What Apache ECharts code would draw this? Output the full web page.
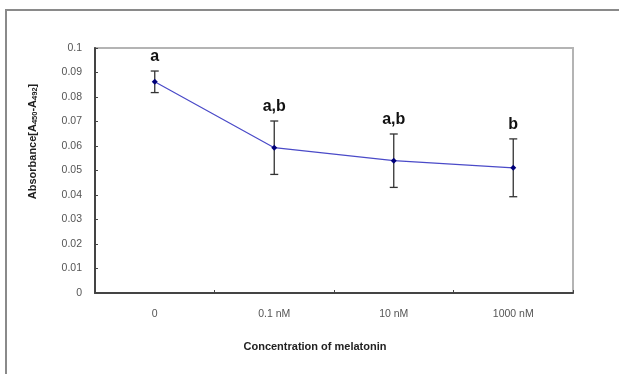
<!DOCTYPE html>
<html>
<head>
<meta charset="utf-8">
<script src="https://cdn.jsdelivr.net/npm/echarts@6/dist/echarts.min.js"></script>
<style>
  html, body { margin: 0; padding: 0; background: #fff; }
  #chart { width: 619px; height: 374px; }
</style>
</head>
<body>
<div id="chart"></div>
<script>
// data
var categories = ['0', '0.1 nM', '10 nM', '1000 nM'];
var meanValues = [0.0862, 0.0593, 0.0540, 0.0511];
var errValues = [0.0044, 0.0109, 0.0109, 0.0118];
var sigLabels = ['a', 'a,b', 'a,b', 'b'];
var yTicks = { min: 0, max: 0.1, interval: 0.01 };

var myChart = echarts.init(document.getElementById('chart'), null, { renderer: 'canvas' });

var errData = [];
for (var i = 0; i < categories.length; i++) {
    errData.push([i, meanValues[i] - errValues[i], meanValues[i] + errValues[i], sigLabels[i]]);
}

var option = {
    animation: false,
    backgroundColor: '#fff',
    grid: {
        left: 95, top: 48, right: 46, bottom: 81,
        show: true, borderColor: '#b4b4b4', borderWidth: 2, backgroundColor: 'transparent'
    },
    // outer frame (top and left edges only are visible)
    graphic: [{
        type: 'polyline',
        shape: { points: [[6, 374], [6, 10], [619, 10]] },
        style: { stroke: '#8a8a8a', lineWidth: 2, fill: null },
        silent: true
    }],
    xAxis: {
        type: 'category',
        data: categories,
        boundaryGap: true,
        name: 'Concentration of melatonin',
        nameLocation: 'middle',
        nameGap: 48,
        nameTextStyle: {
            fontFamily: 'Liberation Sans', fontSize: 11, fontWeight: 'bold', color: '#222',
            padding: [0, 38, 0, 0]
        },
        axisLine: { lineStyle: { color: '#444', width: 2 } },
        axisTick: { show: true, inside: true, length: 3, alignWithLabel: false, lineStyle: { color: '#444' } },
        axisLabel: { margin: 16, fontFamily: 'Liberation Sans', fontSize: 10.5, color: '#555' },
        splitLine: { show: false }
    },
    yAxis: {
        type: 'value',
        min: yTicks.min, max: yTicks.max, interval: yTicks.interval,
        name: '{b|Absorbance[A}{s|450}{b|-A}{s|492}{b|]}',
        nameLocation: 'middle',
        nameRotate: 90,
        nameGap: 56,
        nameTextStyle: {
            padding: [0, 0, 0, 58],
            rich: {
                b: { fontFamily: 'Liberation Sans', fontSize: 11, fontWeight: 'bold', color: '#222' },
                s: { fontFamily: 'Liberation Sans', fontSize: 7.5, fontWeight: 'bold', color: '#222', verticalAlign: 'bottom', padding: [5, 0, 0, 0] }
            }
        },
        axisLine: { show: true, lineStyle: { color: '#444', width: 2 } },
        axisTick: { show: true, inside: true, length: 3, lineStyle: { color: '#444' } },
        axisLabel: {
            margin: 13, fontFamily: 'Liberation Sans', fontSize: 10.5, color: '#555',
            formatter: function (v) { return v === 0 ? '0' : String(+v.toFixed(2)); }
        },
        splitLine: { show: false }
    },
    series: [
        {
            name: 'mean',
            type: 'line',
            data: meanValues,
            symbol: 'diamond',
            symbolSize: 6,
            itemStyle: { color: '#00007a' },
            lineStyle: { color: '#4a4ac8', width: 1.2 },
            z: 3
        },
        {
            name: 'error',
            type: 'custom',
            data: errData,
            z: 2,
            renderItem: function (params, api) {
                var x = api.value(0);
                var lo = api.coord([x, api.value(1)]);
                var hi = api.coord([x, api.value(2)]);
                var cap = 4;
                var st = { stroke: '#333', lineWidth: 1.3 };
                return {
                    type: 'group',
                    children: [
                        { type: 'line', shape: { x1: hi[0], y1: hi[1], x2: lo[0], y2: lo[1] }, style: st },
                        { type: 'line', shape: { x1: hi[0] - cap, y1: hi[1], x2: hi[0] + cap, y2: hi[1] }, style: st },
                        { type: 'line', shape: { x1: lo[0] - cap, y1: lo[1], x2: lo[0] + cap, y2: lo[1] }, style: st },
                        {
                            type: 'text',
                            style: {
                                text: sigLabels[params.dataIndex],
                                x: hi[0], y: hi[1] - 14,
                                align: 'center', verticalAlign: 'middle',
                                font: 'bold 16px "Liberation Sans"',
                                fill: '#111'
                            }
                        }
                    ]
                };
            }
        }
    ]
};

myChart.setOption(option);
</script>
</body>
</html>
